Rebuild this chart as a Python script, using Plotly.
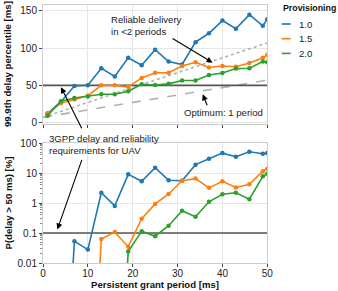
import plotly.graph_objects as go
from plotly.subplots import make_subplots

W, H = 338, 291

# ---------------- data ----------------
period = [1, 4, 7, 10, 13, 16, 19, 22, 25, 28, 31, 34, 37, 40, 43, 46, 49, 50]

p999_10 = [12, 28, 49, 50, 73, 62, 87, 77, 98, 82, 78, 108, 120, 137, 126, 145, 130, 139]
p999_15 = [12, 26, 31, 36, 50, 50, 48, 60, 67, 67, 76, 81, 74, 76, 75, 80, 87, 91]
p999_20 = [9, 28.5, 33, 35, 38, 38, 42, 51.5, 50.5, 52, 56.5, 56.5, 64, 66.5, 72.5, 73, 82, 81]

# 1e-9 stands for 0 % (clipped below the log axis)
pviol_10 = [1e-9, 1e-9, 0.053, 0.028, 2.2, 0.8, 9, 5.3, 15, 5.7, 5.5, 19, 30, 46, 35, 51, 44, 46]
pviol_15 = [1e-9, 1e-9, 1e-9, 1e-9, 0.063, 0.107, 0.035, 0.30, 0.93, 2.0, 5.5, 6.5, 3.2, 5.3, 3.3, 4.2, 11.5, 13.8]
pviol_20 = [1e-9, 1e-9, 1e-9, 1e-9, 1e-9, 1e-9, 0.024, 0.115, 0.078, 0.175, 0.55, 0.35, 1.1, 1.96, 2.2, 1.34, 7.8, 9.4]

ref_period = [0, 50]
optimum_1 = [7, 57]        # one period
reliable_2 = [7, 107]      # two periods
delay_req = 50             # ms
rel_req = 0.1              # %

series_names = ["1.0", "1.5", "2.0"]
colors = ["#1f77b4", "#ff7f0e", "#2ca02c"]

x_ticks = [0, 10, 20, 30, 40, 50]
top_ticks = [0, 50, 100, 150]
log_ticks = [0.01, 0.1, 1, 10, 100]
log_labels = ["0.01", "0.1", "1", "10", "100"]

FONT = "Liberation Sans, Arial, sans-serif"

# ---------------- figure ----------------
fig = make_subplots(rows=2, cols=1, shared_xaxes=True)

# reference lines (top)
fig.add_trace(go.Scatter(x=ref_period, y=reliable_2, mode="lines",
                         line=dict(color="#b0b0b0", width=1.6, dash="dot"),
                         showlegend=False), row=1, col=1)
fig.add_trace(go.Scatter(x=ref_period, y=optimum_1, mode="lines",
                         line=dict(color="#b0b0b0", width=1.6, dash="dash"),
                         showlegend=False), row=1, col=1)
fig.add_trace(go.Scatter(x=ref_period, y=[delay_req, delay_req], mode="lines",
                         line=dict(color="#555555", width=1.6),
                         showlegend=False), row=1, col=1)
fig.add_trace(go.Scatter(x=ref_period, y=[rel_req, rel_req], mode="lines",
                         line=dict(color="#555555", width=1.6),
                         showlegend=False), row=2, col=1)

for name, col, top, bot in zip(series_names, colors,
                                [p999_10, p999_15, p999_20],
                                [pviol_10, pviol_15, pviol_20]):
    fig.add_trace(go.Scatter(x=period, y=top, mode="lines+markers", name=name,
                             line=dict(color=col, width=1.6),
                             marker=dict(color=col, size=4.5),
                             showlegend=False), row=1, col=1)
    fig.add_trace(go.Scatter(x=period, y=bot, mode="lines+markers", name=name,
                             line=dict(color=col, width=1.6),
                             marker=dict(color=col, size=4.5),
                             showlegend=False), row=2, col=1)


def fx(px):
    return px / W


def fy(py):
    return 1 - py / H


x_left, x_right = 43, 267.3
top_t, top_b = 5, 124
bot_t, bot_b = 143, 263

grid = "#e6e6e6"
frame = "#cccccc"
tickc = "#444444"

common_x = dict(range=[0, 50], tickvals=x_ticks, showgrid=True, gridcolor=grid,
                showline=True, linecolor=frame, linewidth=1, mirror=True,
                ticks="outside", ticklen=3, tickcolor=tickc, zeroline=False,
                automargin=False, domain=[fx(x_left), fx(x_right)])

fig.update_layout(
    width=W, height=H,
    margin=dict(l=0, r=0, t=0, b=0, autoexpand=False),
    paper_bgcolor="white", plot_bgcolor="white",
    font=dict(family=FONT, size=10, color="#222222"),
    showlegend=False,
    xaxis=dict(**common_x, showticklabels=False),
    xaxis2=dict(**common_x, showticklabels=True, ticklabelstandoff=-2,
                tickfont=dict(size=10, color="#222222")),
    yaxis=dict(range=[-2, 158], tickvals=top_ticks, showgrid=True, gridcolor=grid,
               showline=True, linecolor=frame, mirror=True, ticks="outside",
               ticklen=3, tickcolor=tickc, zeroline=False, automargin=False,
               domain=[fy(top_b), fy(top_t)], tickfont=dict(size=10)),
    yaxis2=dict(type="log", range=[-2, 2], tickvals=log_ticks, ticktext=log_labels,
                showgrid=True, gridcolor=grid, showline=True, linecolor=frame,
                mirror=True, ticks="outside", ticklen=3, tickcolor=tickc,
                zeroline=False, automargin=False, domain=[fy(bot_b), fy(bot_t)],
                tickfont=dict(size=10),
                minor=dict(ticks="outside", ticklen=2, tickcolor="#888888",
                           dtick="D1", showgrid=False)),
)

ann = []
# axis titles
ann.append(dict(text="<b>99.9th delay percentile [ms]</b>", x=fx(7.5), y=fy((top_t + top_b) / 2),
                xref="paper", yref="paper", textangle=-90, showarrow=False,
                xanchor="center", yanchor="middle",
                font=dict(size=9.6, color="#111111")))
ann.append(dict(text="<b>P(delay &gt; 50 ms) [%]</b>", x=fx(7.5), y=fy((bot_t + bot_b) / 2),
                xref="paper", yref="paper", textangle=-90, showarrow=False,
                xanchor="center", yanchor="middle",
                font=dict(size=9.6, color="#111111")))
ann.append(dict(text="<b>Persistent grant period [ms]</b>", x=fx((x_left + x_right) / 2), y=fy(284.5),
                xref="paper", yref="paper", showarrow=False,
                xanchor="center", yanchor="middle",
                font=dict(size=9.6, color="#111111")))

# text annotations
ann.append(dict(text="Reliable delivery<br>in &lt;2 periods", x=fx(109), y=fy(25),
                xref="paper", yref="paper", xanchor="left", yanchor="middle", align="left",
                showarrow=False, font=dict(size=9.6, color="#222222")))
ann.append(dict(text="Optimum: 1 period", x=fx(223), y=fy(112.5),
                xref="paper", yref="paper", xanchor="center", yanchor="middle",
                showarrow=False, font=dict(size=9.6, color="#222222")))
ann.append(dict(text="3GPP delay and reliability<br>requirements for UAV", x=fx(47), y=fy(144.5),
                xref="paper", yref="paper", xanchor="left", yanchor="middle", align="left",
                showarrow=False, font=dict(size=9.6, color="#222222")))

# arrows (tip in data coordinates, tail offset in pixels)
arrow = dict(showarrow=True, arrowhead=2, arrowsize=1.1, arrowwidth=1.1,
             arrowcolor="black", text="", standoff=0)
ann.append(dict(x=37.8, y=80.5, xref="x", yref="y", ax=-41.5, ay=-25, **arrow))
ann.append(dict(x=35.6, y=38, xref="x", yref="y", ax=5, ay=12.5, **arrow))
ann.append(dict(x=4.0, y=47.5, xref="x", yref="y", ax=21.5, ay=42.5, **arrow))
ann.append(dict(x=3.2, y=-0.88, xref="x2", yref="y2", ax=25, ay=-71, **arrow))

# legend (drawn manually)
ann.append(dict(text="<b>Provisioning</b>", x=fx(281), y=fy(7.5), xref="paper", yref="paper",
                xanchor="left", yanchor="middle", showarrow=False,
                font=dict(size=8.8, color="#111111")))
shapes = []
for i, (name, col) in enumerate(zip(series_names, colors)):
    yy = 24 + i * 14.7
    shapes.append(dict(type="line", xref="paper", yref="paper",
                       x0=fx(281.7), x1=fx(290.7), y0=fy(yy), y1=fy(yy),
                       line=dict(color=col, width=1.6)))
    ann.append(dict(text=name, x=fx(296.5), y=fy(yy), xref="paper", yref="paper",
                    xanchor="left", yanchor="middle", showarrow=False,
                    font=dict(size=9.6, color="#222222")))

fig.update_layout(annotations=ann, shapes=shapes)

fig.write_html("out.html", config={"displayModeBar": False},
               post_script="document.body.style.margin='0';")
